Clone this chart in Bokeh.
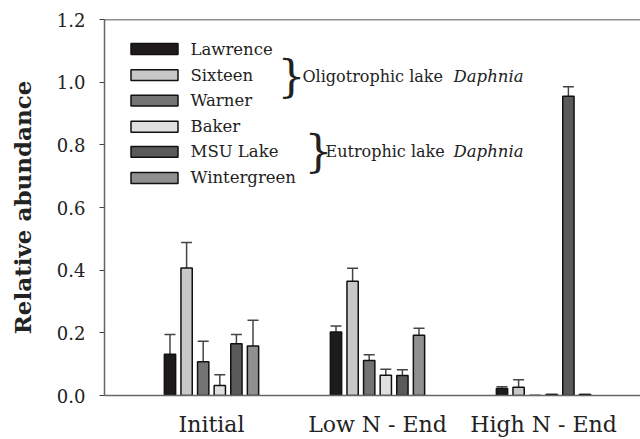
from bokeh.plotting import figure
from bokeh.models import (ColumnDataSource, FixedTicker, PrintfTickFormatter, Range1d,
                          Whisker, TeeHead, Span, Label)
from bokeh.embed import file_html
from bokeh.resources import INLINE

# ---- data ----
groups = ["Initial", "Low N - End", "High N - End"]
lakes = ["Lawrence", "Sixteen", "Warner", "Baker", "MSU Lake", "Wintergreen"]
lawrence = [0.132, 0.203, 0.022]
sixteen = [0.407, 0.365, 0.026]
warner = [0.108, 0.112, 0.0]
baker = [0.032, 0.065, 0.003]
msu_lake = [0.165, 0.064, 0.955]
wintergreen = [0.158, 0.192, 0.003]
lawrence_se = [0.063, 0.019, 0.006]
sixteen_se = [0.081, 0.041, 0.024]
warner_se = [0.065, 0.018, 0.0]
baker_se = [0.034, 0.019, 0.0]
msu_lake_se = [0.030, 0.018, 0.030]
wintergreen_se = [0.082, 0.023, 0.0]
y_ticks = [0.0, 0.2, 0.4, 0.6, 0.8, 1.0, 1.2]

series = [lawrence, sixteen, warner, baker, msu_lake, wintergreen]
errors = [lawrence_se, sixteen_se, warner_se, baker_se, msu_lake_se, wintergreen_se]
colors = ["#1f1b1c", "#c8c8c8", "#737373", "#e0e0e0", "#5a5a5a", "#909090"]

FONT = "DejaVu Serif"
TXT = "#222222"

# layout geometry (page pixels)
W, H = 640, 439
FRAME_L, FRAME_T, FRAME_B = 104, 19, 401
PX_PER_GROUP = 166.0
x_start = 1 - (211 - FRAME_L) / PX_PER_GROUP
x_end = x_start + (W - FRAME_L) / PX_PER_GROUP

def px2x(px):
    return x_start + (px - FRAME_L) / PX_PER_GROUP

def px2y(py):
    return (FRAME_B - py) * 1.2 / (FRAME_B - FRAME_T)

p = figure(width=W, height=H, output_backend="svg", toolbar_location=None,
           x_range=Range1d(x_start, x_end), y_range=Range1d(0, 1.2),
           min_border_left=FRAME_L, min_border_right=0,
           min_border_top=FRAME_T, min_border_bottom=H - FRAME_B)
p.outline_line_color = None
p.grid.visible = False
p.background_fill_color = "white"

step = 0.1
width = 0.068
for i, (name, vals, errs, col) in enumerate(zip(lakes, series, errors, colors)):
    xs = [g + 1 + (i - 2.5) * step for g in range(len(groups))]
    src = ColumnDataSource(dict(x=xs, top=vals,
                                upper=[v + e for v, e in zip(vals, errs)]))
    p.vbar(x="x", top="top", width=width, source=src, fill_color=col,
           line_color="#111111", line_width=1.5)
    w = Whisker(source=src, base="x", lower="top", upper="upper",
                line_color="#444444", line_width=1.5, lower_head=None,
                upper_head=TeeHead(size=11, line_color="#444444", line_width=1.5))
    p.add_layout(w)

# legend (custom)
row_y = [49, 75.5, 101.5, 128, 153.5, 180]
for name, col, ry in zip(lakes, colors, row_y):
    p.rect(x=px2x(154), y=px2y(ry), width=47 / PX_PER_GROUP,
           height=11 * 1.2 / (FRAME_B - FRAME_T), fill_color=col,
           line_color="#111111", line_width=1.5)
    p.add_layout(Label(x=px2x(190), y=px2y(ry), text=name, text_font=FONT,
                       text_font_size="16.5px", text_baseline="middle", text_color=TXT))

for (bx, by, tx, t1, dx) in [(277, 77, 302, "Oligotrophic lake", 453),
                            (304, 153, 325, "Eutrophic lake", 453)]:
    p.add_layout(Label(x=px2x(bx), y=px2y(by), text="}", text_font=FONT,
                       text_font_size="44px", text_baseline="middle", text_color=TXT))
    p.add_layout(Label(x=px2x(tx), y=px2y(by), text=t1, text_font=FONT,
                       text_font_size="16px", text_baseline="middle", text_color=TXT))
    p.add_layout(Label(x=px2x(dx), y=px2y(by), text="Daphnia", text_font=FONT,
                       text_font_style="italic",
                       text_font_size="16.5px", text_baseline="middle", text_color=TXT))

# top line
p.add_layout(Span(location=1.2, dimension="width", line_color="#222222", line_width=1.5))

# axes
p.xaxis.ticker = FixedTicker(ticks=[1, 2, 3])
p.xaxis.major_label_overrides = {i + 1: g for i, g in enumerate(groups)}
p.xaxis.major_tick_line_color = None
p.xaxis.minor_tick_line_color = None
p.xaxis.axis_line_color = "#666666"
p.xaxis.axis_line_width = 1.5
p.xaxis.major_label_text_font = FONT
p.xaxis.major_label_text_font_size = "22px"
p.xaxis.major_label_text_color = TXT
p.xaxis.major_label_standoff = 10

p.yaxis.ticker = FixedTicker(ticks=y_ticks)
p.yaxis.formatter = PrintfTickFormatter(format="%.1f")
p.yaxis.minor_tick_line_color = None
p.yaxis.major_tick_in = 0
p.yaxis.major_tick_out = 5
p.yaxis.major_tick_line_color = "#444444"
p.yaxis.axis_line_color = "#666666"
p.yaxis.axis_line_width = 1.5
p.yaxis.major_label_text_font = FONT
p.yaxis.major_label_text_font_size = "18px"
p.yaxis.major_label_text_color = TXT
p.yaxis.major_label_standoff = 14
p.yaxis.axis_label = "Relative abundance"
p.yaxis.axis_label_text_font = FONT
p.yaxis.axis_label_text_font_style = "bold"
p.yaxis.axis_label_text_font_size = "23px"
p.yaxis.axis_label_text_color = TXT
p.yaxis.axis_label_standoff = 18

open("out.html", "w").write(file_html(p, INLINE))
